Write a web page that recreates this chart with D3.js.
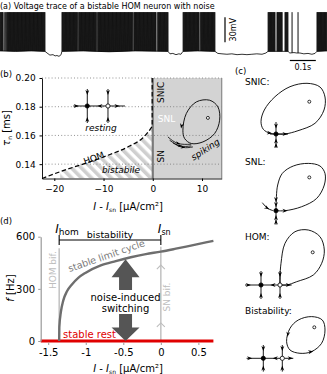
<!DOCTYPE html>
<html>
<head>
<meta charset="utf-8">
<script src="https://cdn.jsdelivr.net/npm/d3@7"></script>
<style>
  body { margin: 0; background: #fff; }
  svg { display: block; font-family: "DejaVu Sans", sans-serif; }
</style>
</head>
<body>
<svg id="fig" width="327" height="374"></svg>
<script>
/* ---------------- data ---------------- */

// (a) voltage trace: bursts of spikes (ms) and the resting baseline (ms, mV)
var burstStart = [0, 27, 238, 302, 375, 514, 606, 704, 771, 1031, 1065, 1096, 1219];
var burstEnd   = [12, 173, 298, 371, 510, 602, 646, 767, 827, 1058, 1085, 1108, 1258];
var singleSpikes = [16, 20.5, 24, 1123, 1146];
var spikeISI = 2.2, spikePeak = -16;
var baseT = [0, 60, 120, 173, 181, 192, 204, 212, 219, 227, 235, 238, 320, 420, 520, 646, 654, 665, 677, 688, 696, 704,
             760, 827, 838, 854, 873, 892, 912, 931, 950, 969, 988, 1008, 1023, 1031, 1108, 1115, 1131, 1142, 1154,
             1169, 1185, 1200, 1212, 1219, 1258];
var baseV = [-62.5, -63, -62.5, -63, -65, -67.5, -67, -68.5, -68, -69, -67, -63, -62.5, -63.5, -62.5, -63, -66, -65.5, -67, -66, -66.5, -63,
             -62.5, -63, -65.5, -66, -66.5, -66, -67, -66.5, -67, -66.5, -66, -66.5, -65, -63, -63, -65, -64.5, -65, -65,
             -66, -65.5, -66.5, -65.5, -63, -62.5];

// (b) two-parameter bifurcation diagram
var bTicksX = [-20, -10, 0, 10];
var bTicksY = [0.14, 0.16, 0.18, 0.20];
var homI   = [-22.5, -17.6, -13.5, -8.7, -4.7, -2.0, -0.3, 0];
var homTau = [0.130, 0.1362, 0.1408, 0.1467, 0.1526, 0.1584, 0.1654, 0.167];
var snicTauMin = 0.167;
var restNode = [-13.3, 0.1805], restSaddle = [-9.1, 0.1805];
var spikeFocus = [11.2, 0.1722];

// (d) firing rate vs current
var dTicksX = [-1.5, -1, -0.5, 0, 0.5];
var dTickLabels = ["-1.5", "-1", "-0.5", "0", "0.5"];
var dTicksY = [0, 300, 600];
var lcI = [-1.354, -1.352, -1.33, -1.30, -1.25, -1.19, -1.10, -1.0, -0.8, -0.6, -0.4, -0.2, 0, 0.2, 0.4, 0.6, 0.7];
var lcF = [0, 80, 170, 232, 286, 322, 363, 393, 435, 460, 482, 500, 514, 531, 549, 567, 576];
var iHom = -1.354, iSn = 0;
var switchI = -0.47, switchTop = 470;

// schematic phase portraits (sketch units)
var snicLoop = [[0,0],[9,0],[22,-3.3],[39,-10.7],[48,-24],[49,-37],[44,-47],[31,-50.7],[14,-47.3],[-1,-37.3],[-11.7,-24],[-15,-12.3],[-12.7,-4.7],[-6,-0.7],[0,0]];
var snicFocus = [33.3, -32.3];
var snlLoop = [[0,0],[9,0],[25.7,-4],[40.7,-12.3],[48.3,-25.7],[49,-37.3],[44,-44.7],[32.3,-47.3],[17.3,-44.7],[6.3,-37.3],[1.7,-25.7],[0.4,-14],[0,0]];
var snlFocus = [33.3, -33.3];
var snlTail = [[-13.7,-8],[-8.3,-2.3],[-2.7,0]];
var homLoop = [[0,0],[6.7,0],[16.7,-3.3],[33.3,-10],[41.7,-21.7],[44.3,-35],[40,-48.3],[28.3,-55],[15,-53.3],[5,-41.7],[1,-21.7],[0,-8.3],[0,0]];
var homFocus = [32.7, -32.7];
var bistLoop = [[4.3,-16.7],[7.7,-30],[16,-38.3],[29.3,-41.7],[40,-38.3],[42.7,-28.3],[39.3,-15],[29.3,-6.7],[17.7,-5],[7.7,-8.3]];
var bistFocus = [32, -31];
var spikeLoop = [[-25,12.3],[-21.6,-4.4],[-11.6,-16],[1.7,-17.7],[10,-11],[11.7,2.3],[6.7,15.6],[-5,24],[-16.6,25.6],[-23.3,20.6]];
var spikeTraj = [[[-40,19],[-30,25.5],[-16.6,26.3]], [[-38.3,22.3],[-28,28],[-16.6,28]], [[-35,25],[-25,29.5],[-15,29]]];

/* ---------------- helpers ---------------- */

var svg = d3.select('#fig');

function sketch(ox, oy){
  var sx = d3.scaleLinear().domain([-50, 50]).range([ox - 50, ox + 50]);
  var sy = d3.scaleLinear().domain([-50, 50]).range([oy - 50, oy + 50]);
  return function(p){ return [sx(p[0]), sy(p[1])]; };
}

function arrow(g, x, y, ang, s){
  s = s || 2.6;
  g.append('path')
    .attr('d', 'M' + s + ',0L' + (-s) + ',' + (-s*0.75) + 'L' + (-s*0.35) + ',0L' + (-s) + ',' + (s*0.75) + 'Z')
    .attr('transform', 'translate(' + x + ',' + y + ') rotate(' + ang + ')')
    .attr('fill', '#000');
}

function seg(g, a, b){
  g.append('line').attr('x1', a[0]).attr('y1', a[1]).attr('x2', b[0]).attr('y2', b[1])
    .attr('stroke', '#000').attr('stroke-width', 0.9);
}

function curve(g, pts, f, closed){
  var line = d3.line().x(function(d){ return f(d)[0]; }).y(function(d){ return f(d)[1]; })
    .curve(closed ? d3.curveCatmullRomClosed : d3.curveCatmullRom);
  g.append('path').attr('d', line(pts)).attr('fill', 'none').attr('stroke', '#000').attr('stroke-width', 0.9);
}

function dot(g, p, kind){
  var r = kind === 'focus' ? 1.5 : 2.1;
  g.append('circle').attr('cx', p[0]).attr('cy', p[1]).attr('r', r)
    .attr('fill', kind === 'node' ? '#000' : '#fff').attr('stroke', '#000').attr('stroke-width', 0.8);
}

// node + saddle cross used in (b), HOM and bistability sketches
function cross(g, f, nodeX, left, right, vlen, arrowsH){
  seg(g, f([left, 0]), f([right, 0]));
  [nodeX, 0].forEach(function(x){
    seg(g, f([x, -vlen]), f([x, vlen]));
    var a = f([x, -vlen + 3.5]); arrow(g, a[0], a[1], 90);
    var b = f([x, vlen - 3.5]); arrow(g, b[0], b[1], -90);
  });
  arrowsH.forEach(function(h){ var p = f([h[0], 0]); arrow(g, p[0], p[1], h[1]); });
}

/* ---------------- (a) voltage trace ---------------- */

var gA = svg.append('g');
gA.append('text').attr('x', 0).attr('y', 8.5).attr('font-size', 8).text('(a) Voltage trace of a bistable HOM neuron with noise');

var xT = d3.scaleLinear().domain([0, 1258]).range([0, 327]);
var yV = d3.scaleLinear().domain([-65, -35]).range([53, 28]);
var baseAt = d3.scaleLinear().domain(baseT).range(baseV);

gA.append('path')
  .attr('d', d3.line().x(function(d, i){ return xT(baseT[i]); }).y(function(d){ return yV(d); })(baseV))
  .attr('fill', 'none').attr('stroke', '#000').attr('stroke-width', 0.8);

var spikeTimes = singleSpikes.slice();
burstStart.forEach(function(s, i){
  for (var t = s; t <= burstEnd[i]; t += spikeISI) spikeTimes.push(t);
});
var sp = d3.path();
spikeTimes.forEach(function(t){
  sp.moveTo(xT(t), yV(baseAt(t)));
  sp.lineTo(xT(t + 0.6), yV(spikePeak));
  sp.lineTo(xT(t + 1.3), yV(baseAt(t + 1.3)));
});
gA.append('path').attr('d', sp.toString()).attr('fill', 'none').attr('stroke', '#000').attr('stroke-width', 0.55);

// scale bars
gA.append('line').attr('x1', 225).attr('x2', 225).attr('y1', yV(-52)).attr('y2', yV(-22)).attr('stroke', '#000').attr('stroke-width', 1.2);
gA.append('text').attr('transform', 'translate(236,' + yV(-37) + ') rotate(-90)').attr('text-anchor', 'middle')
  .attr('font-size', 8).text('30mV');
gA.append('line').attr('x1', xT(1115)).attr('x2', xT(1215)).attr('y1', 60.5).attr('y2', 60.5).attr('stroke', '#000').attr('stroke-width', 1.2);
gA.append('text').attr('x', xT(1165)).attr('y', 70).attr('text-anchor', 'middle').attr('font-size', 8).text('0.1s');

/* ---------------- (b) bifurcation diagram ---------------- */

var gB = svg.append('g');
var xB = d3.scaleLinear().domain([-22.5, 14]).range([42, 221.7]);
var yB = d3.scaleLinear().domain([0.13, 0.20]).range([178.5, 78]);

var defs = svg.append('defs');
var pat = defs.append('pattern').attr('id', 'hatch').attr('patternUnits', 'userSpaceOnUse')
  .attr('width', 7).attr('height', 7).attr('patternTransform', 'rotate(-45)');
pat.append('rect').attr('width', 7).attr('height', 7).attr('fill', '#fff');
pat.append('rect').attr('width', 3.6).attr('height', 7).attr('fill', '#cfcfcf');

// hatched bistable region
var hatchArea = d3.area().x(function(d, i){ return xB(homI[i]); }).y0(yB(0.13)).y1(function(d){ return yB(d); })
  .curve(d3.curveMonotoneX);
var clip = defs.append('clipPath').attr('id', 'hclip');
clip.append('rect').attr('x', xB(-18.8)).attr('y', yB(0.2)).attr('width', xB(0) - xB(-18.8)).attr('height', yB(0.13) - yB(0.2));
gB.append('path').attr('d', hatchArea(homTau)).attr('fill', 'url(#hatch)').attr('clip-path', 'url(#hclip)');

// spiking region
gB.append('rect').attr('x', xB(0)).attr('y', yB(0.2)).attr('width', xB(14) - xB(0)).attr('height', yB(0.13) - yB(0.2))
  .attr('fill', '#d3d3d3');

// dotted grid
gB.selectAll('.grid').data(bTicksY).enter().append('line')
  .attr('x1', xB(-22.5)).attr('x2', xB(14)).attr('y1', function(d){ return yB(d); }).attr('y2', function(d){ return yB(d); })
  .attr('stroke', '#777').attr('stroke-width', 0.8).attr('stroke-dasharray', '1,2.2');

// SN line and right border
gB.append('line').attr('x1', xB(0)).attr('x2', xB(0)).attr('y1', yB(0.13)).attr('y2', yB(0.2))
  .attr('stroke', '#7a7a7a').attr('stroke-width', 2.2);
gB.append('line').attr('x1', xB(14)).attr('x2', xB(14)).attr('y1', yB(0.13)).attr('y2', yB(0.2))
  .attr('stroke', '#8a8a8a').attr('stroke-width', 1.2);
// SNIC (dashed) and HOM curves
gB.append('line').attr('x1', xB(0) - 0.6).attr('x2', xB(0) - 0.6).attr('y1', yB(0.2)).attr('y2', yB(snicTauMin))
  .attr('stroke', '#000').attr('stroke-width', 1.2).attr('stroke-dasharray', '4.5,2.5');
gB.append('path')
  .attr('d', d3.line().x(function(d, i){ return xB(homI[i]); }).y(function(d){ return yB(d); }).curve(d3.curveMonotoneX)(homTau))
  .attr('fill', 'none').attr('stroke', '#000').attr('stroke-width', 1.2).attr('stroke-dasharray', '4.5,2.5');

// axes
var axB = gB.append('g').attr('transform', 'translate(0,' + yB(0.13) + ')')
  .call(d3.axisBottom(xB).tickValues(bTicksX).tickSize(2.5).tickSizeOuter(0).tickFormat(function(d){ return String(d).replace('-', '\u2212'); }));
var ayB = gB.append('g').attr('transform', 'translate(' + xB(-22.5) + ',0)')
  .call(d3.axisLeft(yB).tickValues(bTicksY).tickSize(2.5).tickSizeOuter(0).tickFormat(d3.format('.2f')));
[axB, ayB].forEach(function(a){
  a.selectAll('text').attr('font-size', 9).attr('font-family', '"DejaVu Sans", sans-serif').attr('fill', '#000');
  a.select('.domain').attr('stroke', '#000').attr('stroke-width', 0.9);
  a.selectAll('.tick line').attr('stroke', '#000');
});
axB.selectAll('text').attr('dy', '0.9em');
ayB.selectAll('text').attr('dx', '-0.1em');

// axis labels
var xlB = gB.append('text').attr('x', 128).attr('y', 210).attr('text-anchor', 'middle').attr('font-size', 10);
xlB.append('tspan').attr('font-style', 'italic').text('I');
xlB.append('tspan').text(' - ');
xlB.append('tspan').attr('font-style', 'italic').text('I');
xlB.append('tspan').attr('font-size', 6).attr('dy', 2).text('sn');
xlB.append('tspan').attr('dy', -2).text(' [\u00b5A/cm\u00b2]');
var ylB = gB.append('text').attr('transform', 'translate(10,128) rotate(-90)').attr('text-anchor', 'middle').attr('font-size', 10);
ylB.append('tspan').attr('font-style', 'italic').text('\u03c4');
ylB.append('tspan').attr('font-size', 6).attr('dy', 2).text('n');
ylB.append('tspan').attr('dy', -2).text(' [ms]');
gB.append('text').attr('x', 0).attr('y', 77).attr('font-size', 8.5).text('(b)');

// region labels
gB.append('text').attr('transform', 'translate(' + (xB(0) + 11) + ',' + yB(0.19) + ') rotate(-90)').attr('text-anchor', 'middle')
  .attr('font-size', 9).text('SNIC');
gB.append('text').attr('transform', 'translate(' + (xB(0) + 11) + ',' + yB(0.1455) + ') rotate(-90)').attr('text-anchor', 'middle')
  .attr('font-size', 9).text('SN');
gB.append('text').attr('x', xB(0) + 5).attr('y', yB(0.1695)).attr('font-size', 9).attr('fill', '#fff').text('SNL');
gB.append('text').attr('x', 101).attr('y', 130.5).attr('text-anchor', 'middle').attr('font-size', 9).attr('font-style', 'italic').text('resting');
gB.append('text').attr('x', 121).attr('y', 173).attr('text-anchor', 'middle').attr('font-size', 9).attr('font-style', 'italic').text('bistabile');
gB.append('text').attr('transform', 'translate(95,161) rotate(-21)').attr('text-anchor', 'middle').attr('font-size', 9).text('HOM');
gB.append('text').attr('transform', 'translate(207,152) rotate(-33)').attr('text-anchor', 'middle').attr('font-size', 9)
  .attr('font-style', 'italic').text('spiking');

// resting phase portrait
var fR = sketch(xB(restSaddle[0]), yB(restSaddle[1]));
var nodeOff = xB(restNode[0]) - xB(restSaddle[0]);
var gR = gB.append('g');
cross(gR, fR, nodeOff, nodeOff - 14, 17, 17, [[nodeOff - 11, 0], [-8, 180], [9, 0]]);
dot(gR, fR([nodeOff, 0]), 'node');
dot(gR, fR([0, 0]), 'saddle');

// spiking limit cycle
var fS = sketch(xB(spikeFocus[0]), yB(spikeFocus[1]));
var gS = gB.append('g');
curve(gS, spikeLoop, fS, true);
dot(gS, fS([0, 0]), 'focus');
var la = fS([-26.4, 8]); arrow(gS, la[0], la[1], 100);
spikeTraj.forEach(function(tr){
  var line = d3.line().x(function(d){ return fS(d)[0]; }).y(function(d){ return fS(d)[1]; }).curve(d3.curveNatural);
  gS.append('path').attr('d', line(tr)).attr('fill', 'none').attr('stroke', '#000').attr('stroke-width', 0.8);
  var m = fS(tr[1]); arrow(gS, m[0], m[1], 12, 2.2);
});

/* ---------------- (c) phase portraits ---------------- */

var gC = svg.append('g');
gC.append('text').attr('x', 235).attr('y', 74).attr('font-size', 8.5).text('(c)');
[['SNIC:', 85], ['SNL:', 165], ['HOM:', 240], ['Bistability:', 314]].forEach(function(l){
  gC.append('text').attr('x', 245).attr('y', l[1]).attr('font-size', 9).text(l[0]);
});

// SNIC
var f1 = sketch(276, 134);
curve(gC, snicLoop, f1, false);
seg(gC, f1([0, -12]), f1([0, 14]));
seg(gC, f1([-6, 0]), f1([12, 0]));
dot(gC, f1(snicFocus), 'focus');
[[0, -8, 90], [0, 7, -90], [0, 11.5, -90], [-6.5, -1, 8], [9, 0, 0]].forEach(function(a){ var p = f1(a); arrow(gC, p[0], p[1], a[2]); });
dot(gC, f1([0, 0]), 'node');

// SNL
var f2 = sketch(276, 210.7);
curve(gC, snlLoop, f2, false);
curve(gC, snlTail, f2, false);
seg(gC, f2([0, 0]), f2([0, 14]));
dot(gC, f2(snlFocus), 'focus');
[[0, -11, 90], [0, -6, 90], [0, 7, -90], [0, 11.5, -90], [9, 0, 0], [-9, -2.8, 30]].forEach(function(a){ var p = f2(a); arrow(gC, p[0], p[1], a[2]); });
dot(gC, f2([0, 0]), 'node');

// HOM
var f3 = sketch(280, 285);
curve(gC, homLoop, f3, false);
cross(gC, f3, -19, -35, 11.7, 14, [[-31.7, 0], [-7, 180], [8.3, 0]]);
dot(gC, f3(homFocus), 'focus');
dot(gC, f3([-19, 0]), 'node');
dot(gC, f3([0, 0]), 'saddle');

// Bistability
var f4 = sketch(282.3, 358.3);
curve(gC, bistLoop, f4, true);
cross(gC, f4, -19, -35.7, 11, 13.3, [[-32.7, 0], [-7, 180], [8, 0]]);
dot(gC, f4(bistFocus), 'focus');
var b1 = f4([5.6, -24]); arrow(gC, b1[0], b1[1], 100);
var b2 = f4([28.5, -6.6]); arrow(gC, b2[0], b2[1], -12);
dot(gC, f4([-19, 0]), 'node');
dot(gC, f4([0, 0]), 'saddle');

/* ---------------- (d) firing rate ---------------- */

var gD = svg.append('g');
var xD = d3.scaleLinear().domain([-1.6, 0.7]).range([40.7, 213.4]);
var yD = d3.scaleLinear().domain([0, 600]).range([341, 236.7]);

gD.append('text').attr('x', 0).attr('y', 224).attr('font-size', 8.5).text('(d)');

// bifurcation markers
gD.append('line').attr('x1', xD(iHom)).attr('x2', xD(iHom)).attr('y1', yD(0)).attr('y2', yD(533))
  .attr('stroke', '#bdbdbd').attr('stroke-width', 1.4);
gD.append('text').attr('transform', 'translate(' + (xD(iHom) - 3) + ',' + yD(408) + ') rotate(-90)').attr('text-anchor', 'middle')
  .attr('font-size', 9).attr('fill', '#bdbdbd').text('HOM bif.');
gD.append('line').attr('x1', xD(iSn)).attr('x2', xD(iSn)).attr('y1', yD(0)).attr('y2', yD(542))
  .attr('stroke', '#bdbdbd').attr('stroke-width', 1.4);
[104, 437].forEach(function(f){
  var x = xD(iSn), y = yD(f);
  gD.append('path').attr('d', 'M' + (x - 4) + ',' + (y + 4) + 'L' + x + ',' + y + 'L' + (x + 4) + ',' + (y + 4))
    .attr('fill', 'none').attr('stroke', '#bdbdbd').attr('stroke-width', 1.1);
});
gD.append('text').attr('transform', 'translate(' + (xD(iSn) + 9.5) + ',' + yD(253) + ') rotate(-90)').attr('text-anchor', 'middle')
  .attr('font-size', 9).attr('fill', '#bdbdbd').text('SN bif.');

// stable rest and limit cycle
gD.append('line').attr('x1', xD(-1.6)).attr('x2', xD(0.7)).attr('y1', yD(0)).attr('y2', yD(0))
  .attr('stroke', '#e00000').attr('stroke-width', 3);
gD.append('path')
  .attr('d', d3.line().x(function(d, i){ return xD(lcI[i]); }).y(function(d){ return yD(d); }).curve(d3.curveMonotoneX)(lcF))
  .attr('fill', 'none').attr('stroke', '#6e6e6e').attr('stroke-width', 2.4);

// axes
var ayD = gD.append('g').attr('transform', 'translate(' + xD(-1.6) + ',0)')
  .call(d3.axisLeft(yD).tickValues(dTicksY).tickSize(2.5).tickSizeOuter(0));
var axD = gD.append('g').attr('transform', 'translate(0,' + (yD(0) + 1.5) + ')')
  .call(d3.axisBottom(xD).tickValues(dTicksX).tickSize(2.5).tickSizeOuter(0).tickFormat(function(d, i){ return dTickLabels[i]; }));
[axD, ayD].forEach(function(a){
  a.selectAll('text').attr('font-size', 10).attr('font-family', '"DejaVu Sans", sans-serif').attr('fill', '#000');
  a.select('.domain').attr('stroke', '#9a9a9a').attr('stroke-width', 1.2);
  a.selectAll('.tick line').attr('stroke', '#9a9a9a');
});
axD.select('.domain').remove();
axD.selectAll('text').attr('dy', '0.8em');

// noise-induced switching arrow
var ax0 = xD(switchI);
var hw = 14, sw = 6.5;
var yTop = yD(switchTop), yBot = yD(0);
gD.append('path').attr('d', 'M' + ax0 + ',' + yTop + 'L' + (ax0 + hw) + ',' + (yTop + 18) + 'L' + (ax0 + sw) + ',' + (yTop + 18) +
  'L' + (ax0 + sw) + ',' + 290 + 'L' + (ax0 - sw) + ',' + 290 + 'L' + (ax0 - sw) + ',' + (yTop + 18) + 'L' + (ax0 - hw) + ',' + (yTop + 18) + 'Z')
  .attr('fill', '#555');
gD.append('path').attr('d', 'M' + ax0 + ',' + yBot + 'L' + (ax0 + hw) + ',' + (yBot - 13.5) + 'L' + (ax0 + sw) + ',' + (yBot - 13.5) +
  'L' + (ax0 + sw) + ',' + 314 + 'L' + (ax0 - sw) + ',' + 314 + 'L' + (ax0 - sw) + ',' + (yBot - 13.5) + 'L' + (ax0 - hw) + ',' + (yBot - 13.5) + 'Z')
  .attr('fill', '#555');
gD.append('text').attr('x', ax0).attr('y', 300.5).attr('text-anchor', 'middle').attr('font-size', 10).text('noise-induced');
gD.append('text').attr('x', ax0).attr('y', 312).attr('text-anchor', 'middle').attr('font-size', 10).text('switching');

gD.append('text').attr('transform', 'translate(' + xD(-0.71) + ',' + yD(472) + ') rotate(-19)').attr('text-anchor', 'middle')
  .attr('font-size', 9.5).attr('fill', '#7a7a7a').text('stable limit cycle');
gD.append('text').attr('x', xD(-0.95)).attr('y', 337.5).attr('text-anchor', 'middle').attr('font-size', 10).attr('fill', '#e00000').text('stable rest');

// bistability bracket
var yBr = 240;
gD.append('line').attr('x1', xD(iHom)).attr('x2', xD(iSn)).attr('y1', yBr).attr('y2', yBr).attr('stroke', '#000').attr('stroke-width', 1.1);
[iHom, iSn].forEach(function(v){
  gD.append('line').attr('x1', xD(v)).attr('x2', xD(v)).attr('y1', yBr - 5).attr('y2', yBr + 5).attr('stroke', '#000').attr('stroke-width', 1.1);
});
gD.append('text').attr('x', (xD(iHom) + xD(iSn)) / 2).attr('y', 237.5).attr('text-anchor', 'middle').attr('font-size', 9.5).text('bistability');
var lh = gD.append('text').attr('x', xD(iHom) - 4).attr('y', 233).attr('font-size', 12);
lh.append('tspan').attr('font-style', 'italic').text('I');
lh.append('tspan').attr('font-size', 9).attr('dy', 1.5).text('hom');
var ls = gD.append('text').attr('x', xD(iSn) - 3).attr('y', 233).attr('font-size', 12);
ls.append('tspan').attr('font-style', 'italic').text('I');
ls.append('tspan').attr('font-size', 8).attr('dy', 1.5).text('sn');

// axis labels
var xlD = gD.append('text').attr('x', 128).attr('y', 372).attr('text-anchor', 'middle').attr('font-size', 10);
xlD.append('tspan').attr('font-style', 'italic').text('I');
xlD.append('tspan').text(' - ');
xlD.append('tspan').attr('font-style', 'italic').text('I');
xlD.append('tspan').attr('font-size', 6).attr('dy', 2).text('sn');
xlD.append('tspan').attr('dy', -2).text(' [\u00b5A/cm\u00b2]');
var ylD = gD.append('text').attr('transform', 'translate(14,288) rotate(-90)').attr('text-anchor', 'middle').attr('font-size', 10);
ylD.append('tspan').attr('font-style', 'italic').text('f');
ylD.append('tspan').text(' [Hz]');
</script>
</body>
</html>
